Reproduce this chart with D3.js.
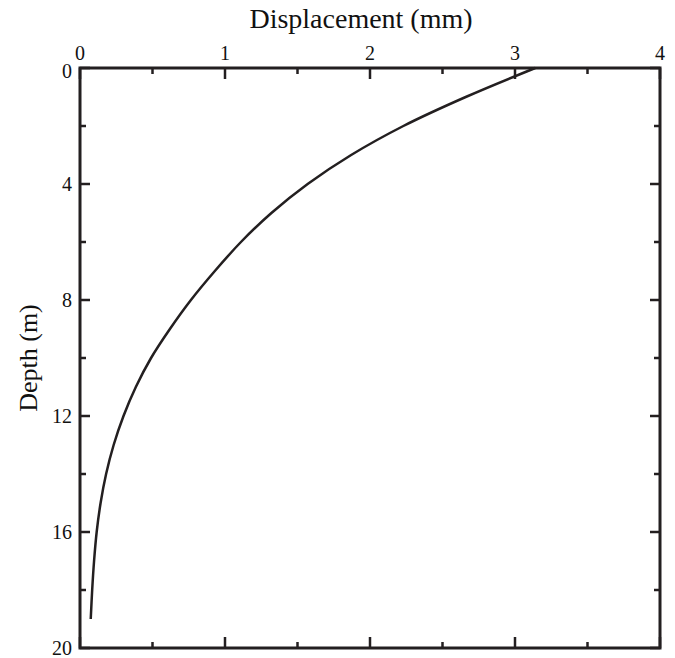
<!DOCTYPE html>
<html>
<head>
<meta charset="utf-8">
<script src="https://cdn.jsdelivr.net/npm/d3@7"></script>
<style>
  body { margin: 0; background: #fff; }
  text { font-family: "Liberation Serif", "DejaVu Serif", serif; fill: #111; }
</style>
</head>
<body>
<div id="chart"></div>
<script>
// Datos (profundidad en m, desplazamiento en mm)
const depth = [0, 1, 2, 3, 4, 5, 6, 7, 8, 9, 10, 11, 12, 13, 14, 15, 16, 17, 18, 19];
const displacement = [3.14, 2.66, 2.23, 1.87, 1.57, 1.32, 1.11, 0.93, 0.765, 0.62, 0.49, 0.385, 0.30, 0.232, 0.18, 0.142, 0.115, 0.097, 0.084, 0.074];
const xTicks = [0, 1, 2, 3, 4];
const yTicks = [0, 4, 8, 12, 16, 20];

const width = 675;
const height = 658;
const margin = { top: 68, right: 15, bottom: 10, left: 80 };

const data = depth.map((d, i) => ({ depth: d, disp: displacement[i] }));

const svg = d3.select("#chart")
    .append("svg")
    .attr("width", width)
    .attr("height", height);

// Escalas
const x = d3.scaleLinear().domain([0, 4]).range([margin.left, width - margin.right]);
const y = d3.scaleLinear().domain([0, 20]).range([margin.top, height - margin.bottom]);

const ink = "#231f20";

// Ticks menores y mayores (hacia adentro)
const xMinor = d3.range(0, 4.01, 0.5);
const yMinor = d3.range(0, 20.01, 2);

const ticks = svg.append("g").attr("stroke", ink).attr("stroke-width", 2.5);

xMinor.forEach(v => {
    const len = Number.isInteger(v) ? 11 : 6;
    ticks.append("line").attr("x1", x(v)).attr("x2", x(v))
        .attr("y1", y(0)).attr("y2", y(0) + len);
    ticks.append("line").attr("x1", x(v)).attr("x2", x(v))
        .attr("y1", y(20)).attr("y2", y(20) - len);
});

yMinor.forEach(v => {
    const len = v % 4 === 0 ? 10 : 6;
    ticks.append("line").attr("y1", y(v)).attr("y2", y(v))
        .attr("x1", x(0)).attr("x2", x(0) + len);
    ticks.append("line").attr("y1", y(v)).attr("y2", y(v))
        .attr("x1", x(4)).attr("x2", x(4) - len);
});

// Marco
svg.append("rect")
    .attr("x", x(0))
    .attr("y", y(0))
    .attr("width", x(4) - x(0))
    .attr("height", y(20) - y(0))
    .attr("fill", "none")
    .attr("stroke", ink)
    .attr("stroke-width", 3);

// Etiquetas de ticks
svg.append("g").selectAll("text")
    .data(xTicks)
    .enter()
    .append("text")
    .attr("x", d => x(d))
    .attr("y", y(0) - 8)
    .attr("text-anchor", "middle")
    .style("font-size", "20px")
    .text(d => d);

svg.append("g").selectAll("text")
    .data(yTicks)
    .enter()
    .append("text")
    .attr("x", x(0) - 8)
    .attr("y", d => y(d) + (d === 0 ? 3 : 0))
    .attr("dy", "0.35em")
    .attr("text-anchor", "end")
    .style("font-size", "20px")
    .text(d => d);

// Títulos de ejes
svg.append("text")
    .attr("x", (x(0) + x(4)) / 2 - 9)
    .attr("y", 28)
    .attr("text-anchor", "middle")
    .style("font-size", "28px")
    .text("Displacement (mm)");

svg.append("text")
    .attr("transform", `translate(37, ${(y(0) + y(20)) / 2}) rotate(-90)`)
    .attr("text-anchor", "middle")
    .style("font-size", "26px")
    .text("Depth (m)");

// Curva
const line = d3.line()
    .x(d => x(d.disp))
    .y(d => y(d.depth))
    .curve(d3.curveCatmullRom);

svg.append("path")
    .datum(data)
    .attr("d", line)
    .attr("fill", "none")
    .attr("stroke", ink)
    .attr("stroke-width", 2.5);
</script>
</body>
</html>
